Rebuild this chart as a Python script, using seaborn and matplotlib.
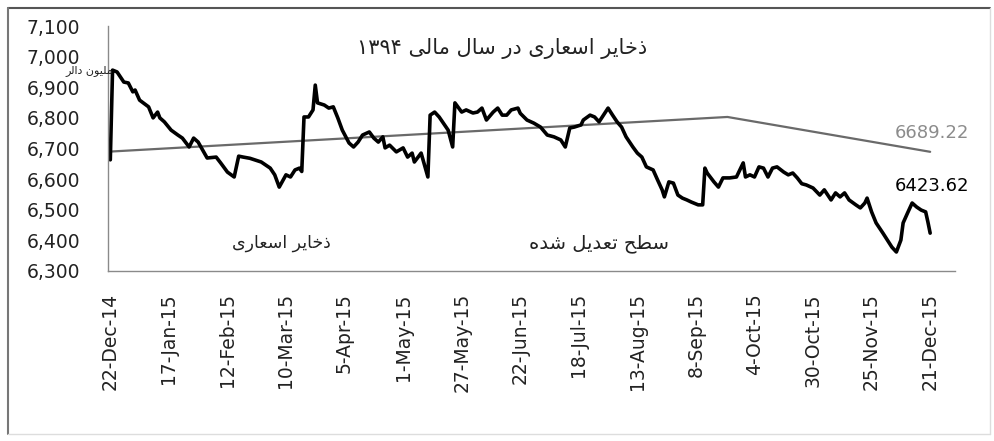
import numpy as np
import pandas as pd
import matplotlib
matplotlib.use("Agg")
import matplotlib.pyplot as plt
import matplotlib.dates as mdates
from matplotlib.ticker import FuncFormatter
from matplotlib.lines import Line2D
import seaborn as sns

# === data ===
start_date = "2014-12-22"

# days since 22-Dec-14 and foreign reserves (million USD)
reserve_day = [
    0, 1, 3, 6, 8, 10, 11, 13, 17, 19, 21, 22, 24, 27, 30, 32, 35, 37, 39, 41,
    43, 47, 49, 52, 55, 57, 59, 62, 67, 71, 73, 75, 78, 80, 82, 84, 85, 86, 88, 90,
    91, 92, 95, 97, 99, 101, 103, 106, 108, 110, 112, 115, 117, 119, 121, 122, 124, 127, 130, 132,
    134, 135, 138, 141, 142, 144, 146, 150, 152, 153, 156, 158, 161, 163, 165, 167, 170, 172, 174, 176,
    178, 181, 182, 185, 188, 191, 194, 197, 200, 202, 204, 206, 209, 210, 213, 215, 217, 221, 223, 225,
    227, 229, 232, 234, 236, 238, 241, 243, 245, 246, 248, 250, 252, 254, 256, 258, 261, 263, 264, 265,
    268, 270, 272, 275, 278, 281, 282, 284, 286, 288, 290, 292, 294, 296, 299, 301, 303, 305, 307, 309,
    312, 315, 317, 320, 322, 324, 326, 328, 331, 333, 335, 336, 338, 340, 343, 345, 347, 349, 351, 352,
    354, 356, 358, 360, 362, 363, 364,
]
reserve_value = [
    6663, 6956, 6950, 6917, 6914, 6885, 6891, 6858, 6836, 6800, 6819, 6800, 6787, 6760, 6744, 6734, 6705, 6734, 6721, 6695,
    6669, 6672, 6653, 6623, 6607, 6675, 6672, 6668, 6656, 6636, 6614, 6574, 6614, 6607, 6630, 6636, 6625, 6803, 6803, 6826,
    6907, 6849, 6842, 6832, 6836, 6800, 6760, 6718, 6705, 6721, 6744, 6754, 6734, 6721, 6738, 6702, 6711, 6689, 6702, 6672,
    6685, 6656, 6685, 6607, 6809, 6819, 6803, 6760, 6705, 6849, 6819, 6826, 6816, 6819, 6832, 6793, 6819, 6832, 6809, 6809,
    6826, 6832, 6815, 6793, 6783, 6770, 6744, 6738, 6728, 6705, 6767, 6770, 6777, 6793, 6809, 6803, 6787, 6832, 6809, 6787,
    6770, 6738, 6705, 6685, 6672, 6640, 6630, 6597, 6565, 6542, 6591, 6587, 6548, 6538, 6532, 6525, 6516, 6516, 6636, 6620,
    6591, 6574, 6604, 6604, 6607, 6653, 6607, 6614, 6607, 6640, 6636, 6607, 6636, 6640, 6623, 6614, 6620, 6604, 6585, 6581,
    6571, 6548, 6565, 6532, 6555, 6542, 6555, 6532, 6516, 6506, 6522, 6538, 6493, 6457, 6424, 6401, 6378, 6362, 6401, 6457,
    6490, 6522, 6509, 6499, 6493, 6460, 6423.62,
]

# adjusted level (trend line)
trend_day = [0, 274, 364]
trend_value = [6690, 6803, 6689.22]

tick_labels = [
    "22-Dec-14", "17-Jan-15", "12-Feb-15", "10-Mar-15", "5-Apr-15", "1-May-15",
    "27-May-15", "22-Jun-15", "18-Jul-15", "13-Aug-15", "8-Sep-15", "4-Oct-15",
    "30-Oct-15", "25-Nov-15", "21-Dec-15",
]
y_ticks = [6300, 6400, 6500, 6600, 6700, 6800, 6900, 7000, 7100]

title_text = "ذخایر اسعاری در سال مالی ۱۳۹۴"
unit_text = "ملیون دالر"
reserve_label = "ذخایر اسعاری"
trend_label = "سطح تعدیل شده"


# --- minimal Persian shaping (matplotlib has no bidi / joining) ---
FORMS = {
    "ذ": ("\uFEAB", "\uFEAC"), "ا": ("\uFE8D", "\uFE8E"), "ر": ("\uFEAD", "\uFEAE"),
    "د": ("\uFEA9", "\uFEAA"), "و": ("\uFEED", "\uFEEE"),
    "خ": ("\uFEA5", "\uFEA6", "\uFEA7", "\uFEA8"), "ی": ("\uFBFC", "\uFBFD", "\uFBFE", "\uFBFF"),
    "س": ("\uFEB1", "\uFEB2", "\uFEB3", "\uFEB4"), "ع": ("\uFEC9", "\uFECA", "\uFECB", "\uFECC"),
    "ل": ("\uFEDD", "\uFEDE", "\uFEDF", "\uFEE0"), "م": ("\uFEE1", "\uFEE2", "\uFEE3", "\uFEE4"),
    "ط": ("\uFEC1", "\uFEC2", "\uFEC3", "\uFEC4"), "ح": ("\uFEA1", "\uFEA2", "\uFEA3", "\uFEA4"),
    "ت": ("\uFE95", "\uFE96", "\uFE97", "\uFE98"), "ش": ("\uFEB5", "\uFEB6", "\uFEB7", "\uFEB8"),
    "ه": ("\uFEE9", "\uFEEA", "\uFEEB", "\uFEEC"), "ن": ("\uFEE5", "\uFEE6", "\uFEE7", "\uFEE8"),
}


def shape_fa(text):
    out = []
    for i, ch in enumerate(text):
        if ch not in FORMS:
            out.append(ch)
            continue
        prev = text[i - 1] if i > 0 else ""
        nxt = text[i + 1] if i + 1 < len(text) else ""
        join_prev = prev in FORMS and len(FORMS[prev]) == 4
        join_next = nxt in FORMS and len(FORMS[ch]) == 4
        f = FORMS[ch]
        if join_prev and join_next:
            out.append(f[3])
        elif join_prev:
            out.append(f[1])
        elif join_next:
            out.append(f[2])
        else:
            out.append(f[0])
    vis = "".join(out)[::-1]
    # digits keep left-to-right order
    res, run = "", ""
    for ch in vis:
        if ch.isdigit():
            run += ch
        else:
            res += run[::-1] + ch
            run = ""
    return res + run[::-1]


base = pd.Timestamp(start_date)
df_res = pd.DataFrame({"date": base + pd.to_timedelta(reserve_day, unit="D"), "value": reserve_value})
df_trend = pd.DataFrame({"date": base + pd.to_timedelta(trend_day, unit="D"), "value": trend_value})
tick_dates = pd.to_datetime(tick_labels, format="%d-%b-%y")

sns.set_style("white")
plt.rcParams["font.family"] = ["DejaVu Sans"]

fig = plt.figure(figsize=(9.94, 4.41), dpi=100)
ax = fig.add_axes([0.1087, 0.3855, 0.852, 0.5555])

sns.lineplot(data=df_trend, x="date", y="value", ax=ax, color="#6a6a6a", linewidth=1.6)
sns.lineplot(data=df_res, x="date", y="value", ax=ax, color="black", linewidth=2.6)

ax.set_xlim(base - pd.Timedelta(days=1), base + pd.Timedelta(days=375))
ax.set_ylim(6300, 7100)
ax.set_xticks(tick_dates)
ax.set_xticklabels(tick_labels, rotation=90)
ax.set_yticks(y_ticks)
ax.yaxis.set_major_formatter(FuncFormatter(lambda v, p: f"{v:,.0f}"))
ax.set_xlabel("")
ax.set_ylabel("")

for s in ["top", "right"]:
    ax.spines[s].set_visible(False)
for s in ["left", "bottom"]:
    ax.spines[s].set_color("#8a8a8a")
    ax.spines[s].set_linewidth(1.0)

ax.tick_params(axis="y", direction="out", length=5, width=1, color="#8a8a8a",
               pad=15, labelsize=13.5, labelcolor="#222222")
ax.tick_params(axis="x", direction="inout", length=6, width=1, color="#8a8a8a",
               pad=13, labelsize=13.5, labelcolor="#222222")

# texts
ax.text(base + pd.Timedelta(days=174), 7028, shape_fa(title_text), ha="center", va="center",
        fontsize=15, color="#222222")
ax.text(base + pd.Timedelta(days=76), 6391, shape_fa(reserve_label), ha="center", va="center",
        fontsize=12.5, color="#222222")
ax.text(base + pd.Timedelta(days=217), 6391, shape_fa(trend_label), ha="center", va="center",
        fontsize=14, color="#222222")
ax.text(base + pd.Timedelta(days=365), 6751, "6689.22", ha="center", va="center",
        fontsize=13, color="#8c8c8c")
ax.text(base + pd.Timedelta(days=365), 6578, "6423.62", ha="center", va="center",
        fontsize=13, color="black")
fig.text(113 / 994, 1 - 71 / 441, shape_fa(unit_text), ha="right", va="center",
         fontsize=8, color="#222222", zorder=1)

# outer frame of the picture
fig.add_artist(Line2D([8 / 994, 990 / 994], [1 - 8 / 441, 1 - 8 / 441], color="#555555", lw=1.5))
fig.add_artist(Line2D([8 / 994, 8 / 994], [1 - 8 / 441, 1 - 434 / 441], color="#777777", lw=1.5))
fig.add_artist(Line2D([990 / 994, 990 / 994], [1 - 8 / 441, 1 - 434 / 441], color="#dddddd", lw=1))
fig.add_artist(Line2D([8 / 994, 990 / 994], [1 - 434 / 441, 1 - 434 / 441], color="#dddddd", lw=1))

fig.savefig("out.png", dpi=100)
